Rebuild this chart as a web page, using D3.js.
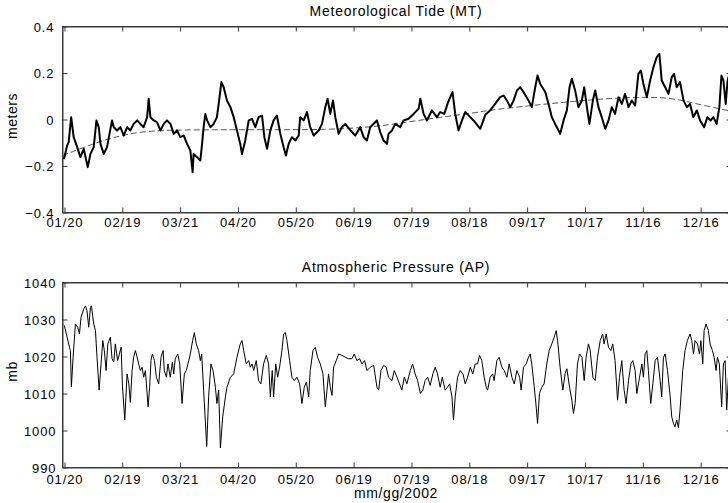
<!DOCTYPE html>
<html>
<head>
<meta charset="utf-8">
<script src="https://cdn.jsdelivr.net/npm/d3@7"></script>
<style>
  body { margin: 0; background: #fff; }
  svg text { font-family: "Liberation Sans", Arial, sans-serif; fill: #000; }
</style>
</head>
<body>
<script>
// x ticks, day of year 2002
const tickDays = [20, 50, 80, 110, 140, 170, 200, 230, 260, 290, 320, 350];
const tickLabels = ["01/20", "02/19", "03/21", "04/20", "05/20", "06/19", "07/19", "08/18", "09/17", "10/17", "11/16", "12/16"];

// Meteorological Tide (m)
const mtDays = [19.6,20.0,21.4,22.2,23.5,24.8,26.6,28.3,30.0,32.1,33.5,35.2,36.6,37.8,38.7,40.4,42.1,44.7,45.6,47.3,49.0,50.8,52.5,54.2,55.9,57.7,59.4,61.1,62.9,63.7,64.6,66.3,68.0,69.8,71.5,73.2,75.0,76.7,78.4,80.1,81.9,83.6,85.3,86.5,87.0,88.8,90.5,91.4,92.2,93.1,94.0,95.7,97.4,99.1,100.0,101.4,102.6,104.3,106.1,107.8,109.5,111.2,112.1,113.8,115.6,117.3,119.0,120.7,122.5,123.7,125.1,126.8,128.5,130.2,132.0,133.7,134.9,136.3,138.0,139.8,141.5,142.3,144.1,145.8,147.5,149.3,151.9,153.6,155.3,156.5,157.9,159.3,160.5,162.2,163.9,165.7,168.3,170.9,173.4,175.2,176.9,178.6,182.1,183.8,185.5,187.3,188.1,189.9,191.6,194.2,195.9,198.5,201.1,203.7,204.6,206.3,208.0,210.6,213.2,214.9,217.0,218.7,220.1,221.3,222.7,224.4,226.2,227.9,230.5,232.2,235.7,238.3,240.8,243.4,246.0,247.8,249.5,251.2,253.0,254.7,256.4,258.1,260.7,262.4,264.2,265.4,266.8,269.4,271.1,272.8,274.5,276.3,277.1,278.9,280.6,282.0,283.2,284.9,286.6,288.4,289.6,291.0,292.3,294.1,295.3,297.0,298.7,300.5,302.2,303.9,305.6,307.4,309.1,310.8,312.6,314.3,316.0,317.7,319.0,320.3,322.1,323.8,325.5,327.2,328.6,329.8,331.6,333.3,335.0,336.2,337.6,339.3,341.1,342.8,344.5,346.2,348.0,349.7,351.8,353.5,355.2,356.6,358.3,359.7,360.8,361.8,363.0,363.9,364.4,365.8];
const mtValues = [-0.17,-0.162,-0.112,-0.097,0.010,-0.076,-0.119,-0.162,-0.126,-0.205,-0.148,-0.119,-0.004,-0.033,-0.105,-0.148,-0.119,-0.004,-0.033,-0.047,-0.033,-0.069,-0.033,-0.047,-0.019,-0.004,-0.019,-0.033,0.010,0.089,0.010,-0.004,-0.011,-0.047,-0.019,-0.004,-0.019,-0.062,-0.047,-0.076,-0.069,-0.105,-0.133,-0.227,-0.148,-0.162,-0.176,-0.105,-0.033,0.024,-0.004,-0.033,-0.019,0.010,0.067,0.161,0.139,0.082,0.053,0.010,-0.047,-0.105,-0.148,-0.090,-0.004,0.003,-0.033,0.010,0.017,-0.076,-0.126,-0.047,-0.004,0.017,-0.062,-0.119,-0.155,-0.105,-0.076,-0.090,-0.069,0.010,-0.004,0.032,-0.033,-0.069,-0.047,-0.019,0.053,0.089,0.024,0.082,0.010,-0.062,-0.033,-0.019,-0.047,-0.069,-0.033,-0.076,-0.090,-0.033,-0.004,-0.054,-0.090,-0.105,-0.062,-0.047,-0.019,-0.033,-0.004,0.003,0.024,0.046,0.089,0.024,-0.004,0.039,0.010,0.032,0.024,0.067,0.096,0.118,0.024,-0.047,-0.004,0.032,0.010,-0.004,-0.040,0.020,0.039,0.067,0.096,0.103,0.082,0.053,0.082,0.125,0.139,0.118,0.082,0.053,0.139,0.189,0.153,0.118,0.067,0.010,-0.019,-0.047,-0.062,-0.004,0.039,0.139,0.175,0.125,0.053,0.082,0.139,0.053,-0.019,0.082,0.125,0.053,0.010,-0.040,-0.004,0.053,0.024,0.096,0.067,0.110,0.053,0.082,0.060,0.196,0.211,0.153,0.096,0.168,0.225,0.268,0.282,0.168,0.139,0.110,0.182,0.196,0.139,0.161,0.082,0.053,0.067,0.010,0.039,-0.004,-0.033,0.010,-0.004,0.010,-0.019,0.053,0.189,0.168,0.067,0.161,0.182,0.15];

// dashed smooth trend of the tide
const trendDays = [19, 30, 40, 50, 60, 75, 100, 130, 155, 180, 198, 215, 232, 240, 262, 279, 296, 313, 330, 339, 348, 360, 366];
const trendValues = [-0.155, -0.12, -0.09, -0.068, -0.052, -0.045, -0.044, -0.044, -0.044, -0.033, -0.011, 0.01, 0.027, 0.04, 0.06, 0.074, 0.087, 0.095, 0.096, 0.085, 0.067, 0.046, 0.035];

// Atmospheric Pressure (mb)
const apDays = [19.6,20.0,21.4,22.6,23.1,23.6,24.5,25.7,26.9,27.8,28.6,30.0,30.9,31.7,32.6,33.5,34.0,35.2,36.1,36.9,38.0,39.0,39.9,40.7,41.6,42.5,43.8,44.7,45.6,46.4,47.6,48.5,49.4,50.1,51.3,52.5,53.4,54.2,55.1,55.9,56.8,57.7,58.5,59.4,60.3,61.1,62.0,63.4,64.2,64.9,65.6,66.7,67.7,68.9,70.1,71.2,71.8,72.9,73.7,74.9,76.0,76.7,77.5,78.8,79.8,81.0,82.2,83.2,84.5,85.3,86.5,87.4,88.4,89.6,90.5,91.2,92.2,93.8,94.8,96.0,97.1,98.3,99.1,100.0,100.9,102.1,103.5,104.3,106.1,107.8,109.5,111.2,112.1,113.0,114.3,115.6,116.4,117.3,118.2,119.5,120.7,121.9,123.3,124.7,125.9,126.8,127.8,128.5,129.6,130.6,131.6,132.8,133.7,134.6,135.4,136.8,138.0,139.2,140.6,142.0,143.2,144.4,145.5,146.7,147.5,148.9,150.1,151.3,152.7,154.1,155.3,156.2,157.0,157.9,158.8,159.6,161.0,162.2,163.9,165.7,167.4,169.1,170.3,171.7,173.1,174.3,175.7,176.9,178.6,180.4,182.1,183.0,184.2,185.5,186.9,188.1,189.9,191.1,192.5,193.8,195.0,196.3,197.6,199.4,200.6,201.9,203.2,204.6,205.9,207.1,208.4,209.7,211.1,212.3,213.5,214.9,216.0,217.5,218.7,219.8,221.0,221.8,222.7,223.9,225.3,226.7,227.9,229.1,230.5,231.8,233.1,234.3,235.3,236.5,237.7,238.8,239.5,240.8,242.1,242.9,244.3,245.5,246.9,248.1,249.5,250.7,252.1,253.3,254.7,256.1,256.9,258.1,259.5,260.7,261.6,262.4,263.7,264.7,265.4,266.4,267.6,268.8,270.2,271.4,272.8,274.0,275.1,275.8,277.1,278.5,279.7,280.6,282.0,283.2,284.0,284.9,286.1,287.2,288.4,289.6,290.6,291.8,292.7,294.1,295.3,296.5,297.9,299.2,299.9,301.0,302.2,303.4,304.4,305.6,306.9,307.9,309.1,310.3,311.3,312.6,313.8,314.8,316.0,316.9,318.3,319.5,320.3,321.2,322.1,322.9,324.1,325.2,326.4,327.6,329.0,329.8,330.7,331.6,332.8,334.2,335.0,335.9,336.7,337.6,338.5,339.3,340.7,341.9,343.1,344.5,345.4,346.3,347.1,348.3,349.4,350.1,351.1,351.8,352.8,354.0,354.9,356.1,357.0,358.0,358.7,359.7,360.9,361.8,362.7,363.5,364.4,365.8];
const apValues = [1028.5,1028.3,1025.2,1022.5,1021.6,1011.8,1019.8,1028.8,1027.9,1026.1,1030.6,1032.8,1033.7,1032.4,1027.9,1033.3,1033.7,1028.8,1027.0,1019.8,1010.9,1018.0,1024.3,1021.6,1016.2,1023.4,1025.2,1019.4,1018.5,1023.4,1018.9,1020.7,1022.5,1012.0,1002.9,1015.3,1012.6,1007.6,1016.2,1019.8,1021.6,1019.8,1018.0,1016.2,1017.1,1014.4,1016.2,1006.4,1011.7,1018.9,1020.7,1018.9,1014.4,1012.6,1019.8,1021.6,1016.2,1014.4,1018.0,1014.4,1018.5,1015.3,1019.4,1020.7,1018.0,1007.3,1015.3,1016.2,1018.9,1020.7,1024.3,1026.5,1023.4,1021.6,1018.9,1020.7,1010.9,995.7,1009.1,1018.0,1016.2,1011.7,1007.3,1010.9,995.3,1003.7,1009.1,1011.7,1014.4,1015.3,1019.8,1023.4,1024.3,1021.6,1018.0,1018.9,1017.1,1018.0,1016.2,1018.9,1013.5,1012.6,1018.0,1020.3,1018.0,1009.1,1016.2,1009.1,1018.0,1014.4,1017.1,1021.6,1026.1,1026.5,1024.3,1018.9,1014.4,1013.5,1014.4,1012.6,1007.3,1011.7,1013.1,1009.1,1016.2,1021.6,1022.5,1019.8,1018.0,1015.3,1006.4,1010.9,1015.3,1011.7,1009.5,1017.1,1018.9,1020.7,1020.3,1019.8,1019.4,1019.4,1020.7,1018.9,1019.4,1018.0,1018.9,1016.2,1017.1,1017.6,1011.7,1010.9,1016.2,1017.6,1017.1,1014.4,1013.5,1016.2,1014.4,1012.6,1010.9,1014.4,1012.6,1016.2,1018.0,1015.3,1013.5,1010.0,1010.9,1013.5,1014.4,1012.2,1015.3,1017.1,1015.3,1011.7,1014.4,1010.9,1011.7,1012.6,1009.1,1002.8,1009.1,1014.4,1016.2,1015.3,1012.6,1014.4,1017.1,1015.3,1018.0,1018.0,1020.3,1018.9,1014.4,1011.7,1010.9,1014.4,1015.3,1013.5,1018.9,1019.8,1017.1,1016.2,1014.4,1018.0,1014.4,1012.6,1016.2,1014.4,1010.9,1017.1,1018.0,1019.8,1020.7,1018.0,1011.7,1006.4,1001.9,1010.0,1011.7,1012.6,1018.0,1021.6,1023.4,1025.2,1027.0,1024.3,1017.1,1010.9,1015.3,1016.7,1011.7,1008.2,1004.6,1007.3,1018.0,1020.7,1019.8,1013.5,1019.8,1023.4,1021.6,1014.4,1013.5,1019.8,1024.3,1026.1,1023.4,1026.1,1022.5,1021.6,1023.4,1018.9,1008.2,1014.4,1018.9,1010.9,1007.3,1013.5,1018.0,1018.9,1016.2,1010.0,1014.4,1018.0,1014.4,1020.7,1021.6,1016.2,1007.3,1012.6,1018.9,1019.8,1013.5,1009.1,1019.8,1020.7,1016.2,1009.1,1003.7,1001.9,1001.0,1002.8,1000.8,1005.5,1016.2,1021.6,1024.3,1026.1,1024.3,1020.7,1024.3,1023.4,1020.7,1024.3,1018.0,1027.0,1028.8,1027.0,1023.4,1021.6,1019.8,1016.2,1019.8,1018.0,1006.4,1018.0,1018.9,1005.5,1014.4,1012.0];

const mtTicks = [-0.4, -0.2, 0, 0.2, 0.4];
const apTicks = [990, 1000, 1010, 1020, 1030, 1040];

const width = 728, height = 503;
const axisColor = "#3a3a3a";

const svg = d3.select("body").append("svg")
    .attr("width", width)
    .attr("height", height);

// common time axis (day of year); the right edge falls just off the picture
let x = d3.scaleLinear()
    .domain([19, 366])
    .range([62.5, 731.5]);

const drawPanel = (opts) => {
    let y = d3.scaleLinear()
        .domain(opts.domain)
        .range([opts.bottom + 0.5, opts.top + 0.5]);

    let g = svg.append("g");

    g.append("clipPath")
        .attr("id", opts.id)
        .append("rect")
        .attr("x", x.range()[0])
        .attr("y", opts.top)
        .attr("width", x.range()[1] - x.range()[0])
        .attr("height", opts.bottom - opts.top + 1);

    // bottom axis, ticks pointing inward
    let xb = g.append("g")
        .attr("transform", `translate(0,${opts.bottom + 0.5})`)
        .call(d3.axisBottom(x).tickValues(tickDays).tickSize(-5).tickSizeOuter(0)
            .tickFormat((d, i) => tickLabels[i]));
    xb.selectAll("text")
        .attr("y", opts.xLabelY)
        .attr("dy", null)
        .style("font-size", "13px")
        .style("letter-spacing", "0.9px");

    // top axis, ticks only
    g.append("g")
        .attr("transform", `translate(0,${opts.top + 0.5})`)
        .call(d3.axisTop(x).tickValues(tickDays).tickSize(-5).tickSizeOuter(0).tickFormat(""));

    // left axis
    let yl = g.append("g")
        .attr("transform", `translate(${x.range()[0]},0)`)
        .call(d3.axisLeft(y).tickValues(opts.ticks).tickSize(-5).tickSizeOuter(0)
            .tickFormat(opts.format));
    yl.selectAll("text")
        .attr("x", opts.yLabelX)
        .attr("dy", "0.35em")
        .style("font-size", "13px")
        .style("letter-spacing", "0.9px");

    // right axis
    g.append("g")
        .attr("transform", `translate(${x.range()[1]},0)`)
        .call(d3.axisRight(y).tickValues(opts.ticks).tickSize(-5).tickSizeOuter(0).tickFormat(""));

    g.selectAll(".domain").attr("stroke", axisColor);
    g.selectAll(".tick line").attr("stroke", axisColor);
    g.selectAll(".tick text").attr("font-family", null);

    // box
    g.append("rect")
        .attr("x", x.range()[0])
        .attr("y", opts.top + 0.5)
        .attr("width", x.range()[1] - x.range()[0])
        .attr("height", opts.bottom - opts.top)
        .attr("fill", "none")
        .attr("stroke", axisColor);

    let line = d3.line()
        .x(d => x(d[0]))
        .y(d => y(d[1]));

    opts.series.forEach(s => {
        let pts = d3.zip(s.days, s.values);
        g.append("path")
            .attr("clip-path", `url(#${opts.id})`)
            .attr("d", line.curve(s.curve || d3.curveLinear)(pts))
            .attr("fill", "none")
            .attr("stroke", s.color)
            .attr("stroke-width", s.width)
            .attr("stroke-linejoin", "round")
            .attr("stroke-dasharray", s.dash || null);
    });

    // title
    g.append("text")
        .attr("x", (x.range()[0] + x.range()[1]) / 2 - 1)
        .attr("y", opts.top - 10)
        .attr("text-anchor", "middle")
        .style("font-size", "14px")
        .style("letter-spacing", "0.75px")
        .text(opts.title);

    // y label
    g.append("text")
        .attr("transform", `translate(17,${(opts.top + opts.bottom) / 2 - 3}) rotate(-90)`)
        .attr("text-anchor", "middle")
        .style("font-size", "14px")
        .style("letter-spacing", "0.5px")
        .text(opts.yTitle);
};

drawPanel({
    id: "clip-mt",
    top: 26, bottom: 212,
    domain: [-0.4, 0.4],
    ticks: mtTicks,
    format: d => d === 0 ? "0" : d3.format(".1f")(d),
    xLabelY: 14,
    yLabelX: -8,
    title: "Meteorological Tide (MT)",
    yTitle: "meters",
    series: [
        {days: trendDays, values: trendValues, color: "#555", width: 1, dash: "6,3", curve: d3.curveBasis},
        {days: mtDays, values: mtValues, color: "#000", width: 2}
    ]
});

drawPanel({
    id: "clip-ap",
    top: 282, bottom: 467,
    domain: [990, 1040],
    ticks: apTicks,
    format: d3.format("d"),
    xLabelY: 16,
    yLabelX: -6,
    title: "Atmospheric Pressure (AP)",
    yTitle: "mb",
    series: [
        {days: apDays, values: apValues, color: "#000", width: 1}
    ]
});

// x-axis title
svg.append("text")
    .attr("x", 396)
    .attr("y", 498)
    .attr("text-anchor", "middle")
    .style("font-size", "14px")
    .style("letter-spacing", "0.6px")
    .text("mm/gg/2002");
</script>
</body>
</html>
